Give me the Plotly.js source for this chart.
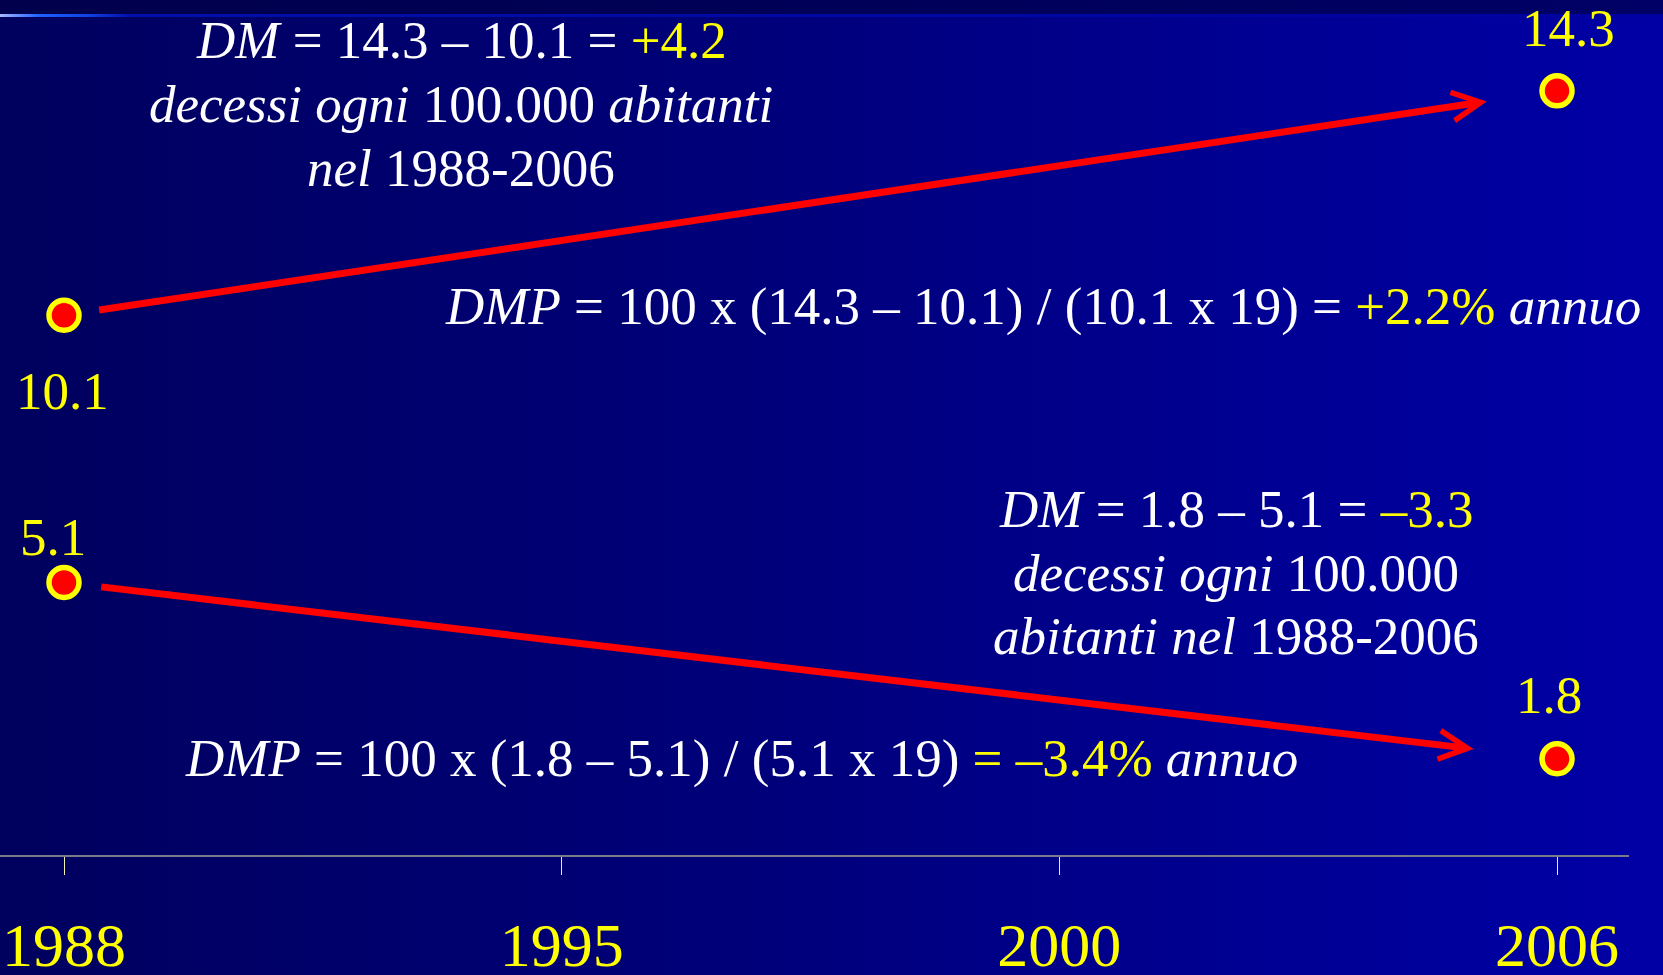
<!DOCTYPE html>
<html>
<head>
<meta charset="utf-8">
<script src="https://cdn.plot.ly/plotly-3.0.1.min.js"></script>
<style>
  html, body { margin: 0; padding: 0; }
  body { width: 1663px; height: 975px; overflow: hidden; position: relative;
         background: linear-gradient(to right, #00005e 0%, #00007a 45%, #0000a6 100%); }
  #strip { position: absolute; left: 0; top: 0; width: 1663px; height: 14px;
           background: linear-gradient(to right, #00004c 0%, #000058 50%, #000066 100%); }
  #rule { position: absolute; left: 0; top: 14px; width: 1663px; height: 3px;
          background: linear-gradient(to right, #a8b8ff 0px, #4d7dff 25px, #1e60ff 40px, #1040e0 90px, #0010a8 130px, #0000a0 100%); }
  #chart { position: absolute; left: 0; top: 0; width: 1663px; height: 975px; }
</style>
</head>
<body>
<div id="strip"></div>
<div id="rule"></div>
<div id="chart"></div>
<script>
// ---- data ----
const anni = ['1988', '1995', '2000', '2006'];        // tick labels / categories
const anniSerie = ['1988', '2006'];                    // years of the two observations
const tassoSuperiore = [10.1, 14.3];                   // upper series (deaths per 100,000)
const tassoInferiore = [5.1, 1.8];                     // lower series (deaths per 100,000)

// ---- derived quantities ----
const nAnni = Number(anniSerie[1]) - Number(anniSerie[0]) + 1;
function fmt(v) { return (v < 0 ? '\u2013' : '') + Math.abs(v).toFixed(1); }
function fmtSigned(v) { return (v < 0 ? '\u2013' : '+') + Math.abs(v).toFixed(1); }
function dm(s) { return s[1] - s[0]; }
function dmp(s) { return 100 * (s[1] - s[0]) / (s[0] * nAnni); }

const WHITE = '#ffffff', YELLOW = '#ffff00', RED = '#ff0000';
const FONT = '"Palatino Linotype", "Book Antiqua", Palatino, "Liberation Serif", serif';
const Y = (t) => '<span style="color:' + YELLOW + '">' + t + '</span>';

const idx = (yr) => anni.indexOf(yr);

// pixel helpers for free text placement (plot area: 0..1629 x 0..855)
const PW = 1629, PH = 855;
const px = (v) => v / PW;
const py = (v) => (PH - v) / PH;

function textLine(text, cx, cy, size) {
  return { xref: 'paper', yref: 'paper', x: px(cx), y: py(cy), xanchor: 'center', yanchor: 'middle',
           showarrow: false, text: text, font: { family: FONT, size: size || 53, color: WHITE } };
}

function valueLabel(yr, v, dx, dy) {
  return { x: idx(yr), y: v, xref: 'x', yref: 'y', showarrow: false, xshift: dx, yshift: dy,
           xanchor: 'center', yanchor: 'middle', text: String(v),
           font: { family: FONT, size: 53, color: YELLOW } };
}

function arrow(s, headStand, tailStand) {
  return { xref: 'x', yref: 'y', axref: 'x', ayref: 'y',
           x: idx(anniSerie[1]), y: s[1], ax: idx(anniSerie[0]), ay: s[0],
           text: '', showarrow: true, arrowhead: 5, arrowsize: 0.8, arrowwidth: 7,
           arrowcolor: RED, standoff: headStand, startstandoff: tailStand };
}

const dmS = dm(tassoSuperiore), dmI = dm(tassoInferiore);
const dmpS = dmp(tassoSuperiore), dmpI = dmp(tassoInferiore);
const [a0, a1] = tassoSuperiore, [b0, b1] = tassoInferiore;
const periodo = anniSerie[0] + '-' + anniSerie[1];

const annotations = [
  arrow(tassoSuperiore, 71, 34),
  arrow(tassoInferiore, 84, 36),
  // upper block
  textLine('<i>DM</i> = ' + fmt(a1) + ' \u2013 ' + fmt(a0) + ' = ' + Y(fmtSigned(dmS)), 461, 40),
  textLine('<i>decessi ogni</i> 100.000 <i>abitanti</i>', 461, 104),
  textLine('<i>nel</i> ' + periodo, 461, 168),
  textLine('<i>DMP</i> = 100 x (' + fmt(a1) + ' \u2013 ' + fmt(a0) + ') / (' + fmt(a0) + ' x ' + nAnni + ') = ' +
           Y(fmtSigned(dmpS) + '%') + ' <i>annuo</i>', 1043, 306),
  // lower block
  textLine('<i>DM</i> = ' + fmt(b1) + ' \u2013 ' + fmt(b0) + ' = ' + Y(fmtSigned(dmI)), 1236, 509),
  textLine('<i>decessi ogni</i> 100.000', 1236, 573),
  textLine('<i>abitanti nel</i> ' + periodo, 1236, 636),
  textLine('<i>DMP</i> = 100 x (' + fmt(b1) + ' \u2013 ' + fmt(b0) + ') / (' + fmt(b0) + ' x ' + nAnni + ') ' +
           Y('= ' + fmtSigned(dmpI) + '%') + ' <i>annuo</i>', 741, 758),
  // value labels
  valueLabel(anniSerie[0], a0, -2, -76),
  valueLabel(anniSerie[1], a1, 11, 63),
  valueLabel(anniSerie[0], b0, -11, 45),
  valueLabel(anniSerie[1], b1, -8, 64)
];

const markerStyle = { size: 30, color: RED, line: { color: YELLOW, width: 5.5 } };

const data = [
  { type: 'scatter', mode: 'markers', x: anniSerie, y: tassoSuperiore, marker: markerStyle,
    cliponaxis: false, hoverinfo: 'x+y', name: 'superiore' },
  { type: 'scatter', mode: 'markers', x: anniSerie, y: tassoInferiore, marker: markerStyle,
    cliponaxis: false, hoverinfo: 'x+y', name: 'inferiore' }
];

const layout = {
  width: 1663, height: 975,
  margin: { l: 0, r: 34, t: 0, b: 120, pad: 0 },
  paper_bgcolor: 'rgba(0,0,0,0)', plot_bgcolor: 'rgba(0,0,0,0)',
  showlegend: false,
  xaxis: {
    type: 'category', categoryorder: 'array', categoryarray: anni,
    tickmode: 'array', tickvals: anni, ticktext: anni,
    range: [-0.1286, 3.1446],
    showgrid: false, zeroline: false,
    showline: true, linecolor: '#7a7a8a', linewidth: 1.5,
    ticks: 'outside', ticklen: 18, tickwidth: 1, tickcolor: '#f0f0b0',
    ticklabelstandoff: 17,
    tickfont: { family: FONT, size: 62, color: YELLOW },
    fixedrange: true
  },
  yaxis: {
    range: [0, 16], visible: false, showgrid: false, zeroline: false, fixedrange: true
  },
  annotations: annotations
};

Plotly.newPlot('chart', data, layout, { displayModeBar: false, staticPlot: true });
</script>
</body>
</html>
